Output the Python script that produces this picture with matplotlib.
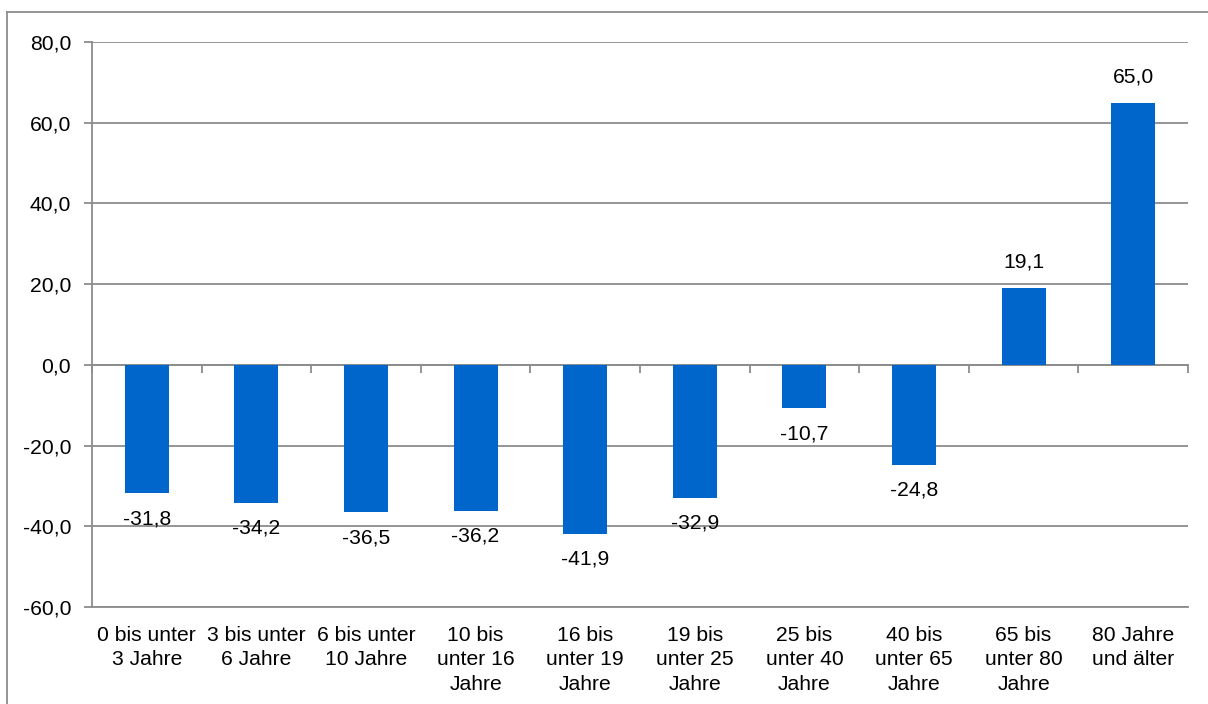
import matplotlib.pyplot as plt
import numpy as np
from matplotlib.lines import Line2D

plt.rcParams['font.family'] = ['Liberation Sans', 'DejaVu Sans']

categories = ['0 bis unter\n3 Jahre', '3 bis unter\n6 Jahre', '6 bis unter\n10 Jahre',
              '10 bis\nunter 16\nJahre', '16 bis\nunter 19\nJahre', '19 bis\nunter 25\nJahre',
              '25 bis\nunter 40\nJahre', '40 bis\nunter 65\nJahre', '65 bis\nunter 80\nJahre',
              '80 Jahre\nund älter']
values = [-31.8, -34.2, -36.5, -36.2, -41.9, -32.9, -10.7, -24.8, 19.1, 65.0]
y_ticks = [-60, -40, -20, 0, 20, 40, 60, 80]

bar_color = '#0066CC'
grid_color = '#8C8C8C'
fs = 15.2

fig = plt.figure(figsize=(12.08, 7.04), dpi=100)
ax = fig.add_axes([92 / 1208, 1 - 607 / 704, (1188 - 92) / 1208, (607 - 42) / 704])

x = np.arange(len(categories))
ax.bar(x, values, width=0.4, color=bar_color, zorder=3)

def fmt(v):
    return f'{v:.1f}'.replace('.', ',')

for xi, v in zip(x, values):
    if v >= 0:
        ax.annotate(fmt(v), (xi, v), xytext=(0, 11.5), textcoords='offset points',
                    ha='center', va='bottom', fontsize=fs)
    else:
        ax.annotate(fmt(v), (xi, v), xytext=(0, -11.5), textcoords='offset points',
                    ha='center', va='top', fontsize=fs)

ax.set_xlim(-0.5, len(categories) - 0.5)
ax.set_ylim(y_ticks[0], y_ticks[-1])
ax.set_yticks(y_ticks)
ax.set_yticklabels([fmt(t) for t in y_ticks], fontsize=fs)
ax.yaxis.grid(True, color=grid_color, linewidth=1.3, zorder=1)
ax.set_axisbelow(True)

ax.set_xticks(x)
ax.set_xticklabels(categories, fontsize=fs, linespacing=1.36)
ax.tick_params(axis='x', length=0, pad=13.5)
ax.tick_params(axis='y', length=6, width=1.3, color=grid_color, pad=9)

for s in ['top', 'right']:
    ax.spines[s].set_visible(False)
for s in ['left', 'bottom']:
    ax.spines[s].set_color(grid_color)
    ax.spines[s].set_linewidth(1.3)

# category axis at zero with ticks between the groups
zero_frac = (0 - y_ticks[0]) / (y_ticks[-1] - y_ticks[0])
sec = ax.secondary_xaxis(zero_frac)
sec.set_xticks(np.arange(len(categories) + 1) - 0.5)
sec.set_xticklabels([])
sec.tick_params(length=6, width=1.3, color=grid_color, direction='out')
sec.spines['bottom'].set_color(grid_color)
sec.spines['bottom'].set_linewidth(1.3)

# outer chart frame
fig.add_artist(Line2D([7 / 1208, 7 / 1208], [-0.1, 1 - 12 / 704], transform=fig.transFigure,
                      color=grid_color, linewidth=1.3))
fig.add_artist(Line2D([7 / 1208, 1.1], [1 - 12 / 704, 1 - 12 / 704], transform=fig.transFigure,
                      color=grid_color, linewidth=1.3))

fig.savefig('out.png', dpi=100)
